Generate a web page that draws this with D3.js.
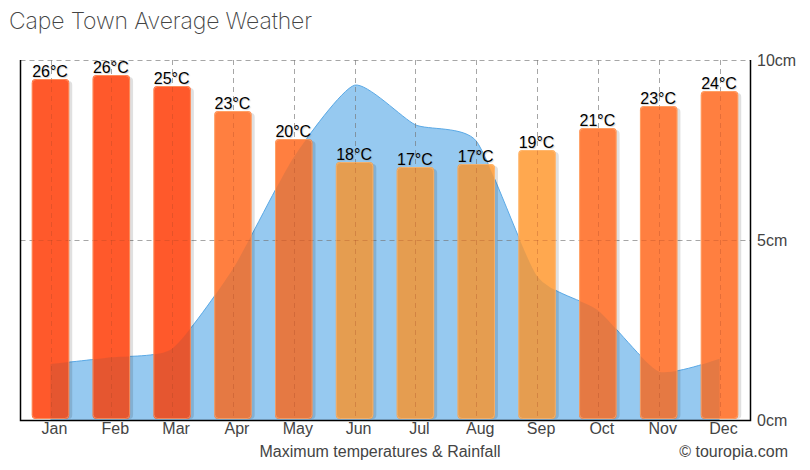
<!DOCTYPE html>
<html>
<head>
<meta charset="utf-8">
<script src="https://cdn.jsdelivr.net/npm/d3@7/dist/d3.min.js"></script>
<style>
  html, body { margin: 0; padding: 0; background: #fff; }
  svg { display: block; }
  text { font-family: "Liberation Sans", Arial, sans-serif; }
  .axis path, .axis line { stroke: none; }
  .axis text { fill: #444; font-size: 16px; font-family: "Liberation Sans", Arial, sans-serif; }
  .temp-label { text-shadow: 1px 1px 1px rgba(150, 150, 150, 0.4); }
</style>
</head>
<body>
<div id="chart"></div>
<script>
const months = ["Jan", "Feb", "Mar", "Apr", "May", "Jun", "Jul", "Aug", "Sep", "Oct", "Nov", "Dec"];
const tempHeights = [26.1, 26.5, 25.4, 22.9, 20.1, 17.8, 17.3, 17.6, 19.0, 21.2, 23.4, 24.9];
const tempLabels = [26, 26, 25, 23, 20, 18, 17, 17, 19, 21, 23, 24];
const rainfall = [1.55, 1.74, 1.98, 4.2, 7.3, 9.3, 8.2, 7.75, 4.0, 3.05, 1.35, 1.7];
const rainTicks = [0, 5, 10];
const gridRain = [5, 10];

const width = 810, height = 470;
const plotLeft = 20.5, plotRight = 750, plotTop = 60, plotBottom = 420;

const svg = d3.select("#chart").append("svg")
  .attr("width", width)
  .attr("height", height);

const x = d3.scalePoint().domain(months).range([50.5, 719.5]);
const yRain = d3.scaleLinear().domain([0, 10]).range([plotBottom, plotTop]);
// bars do not start at 0 degrees in the original
const yTemp = d3.scaleLinear().domain([-8, 28]).range([plotBottom, plotTop]);

function barColor(t) {
  if (t >= 25) return "#ff592b";
  if (t >= 20) return "#ff7f40";
  return "#ffa84f";
}

function addGrid(g) {
  g.attr("fill", "none").attr("stroke-dasharray", "5 4");
  g.selectAll(".h")
    .data(gridRain)
    .join("line")
    .attr("class", "h")
    .attr("x1", plotLeft)
    .attr("x2", plotRight)
    .attr("y1", d => Math.round(yRain(d)) + 0.5)
    .attr("y2", d => Math.round(yRain(d)) + 0.5);
  g.selectAll(".v")
    .data(months)
    .join("line")
    .attr("class", "v")
    .attr("x1", d => Math.round(x(d)) + 0.5)
    .attr("x2", d => Math.round(x(d)) + 0.5)
    .attr("y1", plotTop)
    .attr("y2", plotBottom);
}

// title
svg.append("text")
  .attr("x", 9)
  .attr("y", 29)
  .attr("fill", "#444")
  .style("font-family", "Inter, sans-serif")
  .style("font-weight", 200)
  .style("font-size", "23px")
  .attr("textLength", 303)
  .text("Cape Town Average Weather");

// rainfall area
const area = d3.area()
  .x((d, i) => x(months[i]))
  .y0(plotBottom)
  .y1(d => yRain(d))
  .curve(d3.curveCardinal.tension(0.4));
const rainLine = area.lineY1();

svg.append("path")
  .datum(rainfall)
  .attr("d", area)
  .attr("fill", "#96c9f0");
svg.append("path")
  .datum(rainfall)
  .attr("d", rainLine)
  .attr("fill", "none")
  .attr("stroke", "#5aa9e6")
  .attr("stroke-width", 1);

// grid shows through the blue
svg.append("g")
  .attr("stroke", "#777")
  .attr("stroke-opacity", 0.65)
  .call(addGrid);

const barW = 37.5;
const barBottom = plotBottom - 1;
const barRound = 4;

// bar shadows
svg.append("g")
  .selectAll("rect")
  .data(tempHeights)
  .join("rect")
  .attr("x", (d, i) => x(months[i]) - barW / 2 + 3)
  .attr("y", d => yTemp(d) + 2)
  .attr("width", barW)
  .attr("height", d => barBottom - yTemp(d) - 2)
  .attr("rx", barRound)
  .attr("fill", "#000")
  .attr("fill-opacity", 0.12);

// bars
svg.append("g")
  .selectAll("rect")
  .data(tempHeights)
  .join("rect")
  .attr("x", (d, i) => x(months[i]) - barW / 2)
  .attr("y", d => yTemp(d))
  .attr("width", barW)
  .attr("height", d => barBottom - yTemp(d))
  .attr("rx", barRound)
  .attr("fill", d => barColor(d));

// darker part of the bars where the area passes over them
const clip = svg.append("clipPath").attr("id", "bars-clip");
clip.selectAll("rect")
  .data(tempHeights)
  .join("rect")
  .attr("x", (d, i) => x(months[i]) - barW / 2)
  .attr("y", d => yTemp(d))
  .attr("width", barW)
  .attr("height", d => barBottom - yTemp(d))
  .attr("rx", barRound);
svg.append("path")
  .datum(rainfall)
  .attr("d", area)
  .attr("fill", "#004060")
  .attr("fill-opacity", 0.1)
  .attr("clip-path", "url(#bars-clip)");

// gridlines showing faintly inside the bars
svg.append("g")
  .attr("clip-path", "url(#bars-clip)")
  .attr("stroke", "#a04020")
  .attr("stroke-opacity", 0.28)
  .call(addGrid);

// light edge round the bars
svg.append("g")
  .selectAll("rect")
  .data(tempHeights)
  .join("rect")
  .attr("x", (d, i) => x(months[i]) - barW / 2 + 0.5)
  .attr("y", d => yTemp(d) + 0.5)
  .attr("width", barW - 1)
  .attr("height", d => barBottom - yTemp(d) - 1)
  .attr("rx", barRound)
  .attr("fill", "none")
  .attr("stroke", "#ffc890")
  .attr("stroke-opacity", 0.45);

// labels above bars
svg.append("g")
  .selectAll("text")
  .data(tempHeights)
  .join("text")
  .attr("class", "temp-label")
  .attr("x", (d, i) => x(months[i]) - 0.5)
  .attr("y", d => yTemp(d) - 2)
  .attr("text-anchor", "middle")
  .attr("fill", "#000")
  .style("font-size", "16px")
  .text((d, i) => tempLabels[i] + "°C");

// frame
svg.append("path")
  .attr("d", `M${plotLeft},${plotTop}V${plotBottom + 0.5}H${plotRight + 0.5}V${plotTop}`)
  .attr("fill", "none")
  .attr("stroke", "#000")
  .attr("stroke-width", 1.5);

// axes
svg.append("g")
  .attr("class", "axis")
  .attr("transform", `translate(3.5,${plotBottom})`)
  .call(d3.axisBottom(x).tickSize(0).tickPadding(0))
  .call(g => g.selectAll("text").attr("dy", "0.85em"));

svg.append("g")
  .attr("class", "axis")
  .attr("transform", `translate(${plotRight},0)`)
  .call(d3.axisRight(yRain).tickValues(rainTicks).tickSize(0).tickPadding(7).tickFormat(d => d + "cm"));

// footer
svg.append("text")
  .attr("x", 380)
  .attr("y", 457)
  .attr("text-anchor", "middle")
  .attr("fill", "#444")
  .style("font-size", "16px")
  .text("Maximum temperatures & Rainfall");

svg.append("text")
  .attr("x", 788)
  .attr("y", 457)
  .attr("text-anchor", "end")
  .attr("fill", "#444")
  .style("font-size", "16px")
  .text("© touropia.com");
</script>
</body>
</html>
